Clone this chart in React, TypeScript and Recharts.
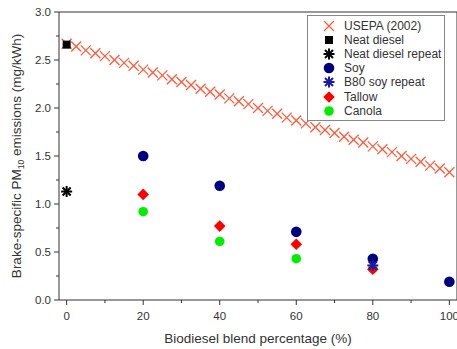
import { ScatterChart, Scatter, XAxis, YAxis } from 'recharts'

// USEPA (2002) reference line markers
const usepaX = [0, 2.5, 5, 7.5, 10, 12.5, 15, 17.5, 20, 22.5, 25, 27.5, 30, 32.5, 35, 37.5, 40, 42.5, 45, 47.5, 50, 52.5, 55, 57.5, 60, 62.5, 65, 67.5, 70, 72.5, 75, 77.5, 80, 82.5, 85, 87.5, 90, 92.5, 95, 97.5, 100]
const usepaY = [2.67, 2.64, 2.6, 2.57, 2.54, 2.5, 2.47, 2.44, 2.4, 2.37, 2.34, 2.3, 2.27, 2.24, 2.2, 2.17, 2.14, 2.1, 2.07, 2.04, 2.0, 1.97, 1.94, 1.9, 1.87, 1.84, 1.8, 1.77, 1.74, 1.7, 1.67, 1.64, 1.6, 1.57, 1.54, 1.5, 1.47, 1.44, 1.4, 1.37, 1.33]

const neatDiesel = [{ x: 0, y: 2.66 }]
const neatDieselRepeat = [{ x: 0, y: 1.13 }]

const soyBlend = [20, 40, 60, 80, 100]
const soyPm = [1.5, 1.19, 0.71, 0.43, 0.19]
const b80SoyRepeat = [{ x: 80, y: 0.36 }]

const tallowBlend = [20, 40, 60, 80]
const tallowPm = [1.1, 0.77, 0.58, 0.32]

const canolaBlend = [20, 40, 60, 80]
const canolaPm = [0.92, 0.61, 0.43, 0.33]

const xTicks = [0, 10, 20, 30, 40, 50, 60, 70, 80, 90, 100]
const yTicks = [0, 0.25, 0.5, 0.75, 1, 1.25, 1.5, 1.75, 2, 2.25, 2.5, 2.75, 3]

const zip = (xs: number[], ys: number[]) => xs.map((x, i) => ({ x, y: ys[i] }))

const usepa = zip(usepaX, usepaY)
const soy = zip(soyBlend, soyPm)
const tallow = zip(tallowBlend, tallowPm)
const canola = zip(canolaBlend, canolaPm)

const FONT = '"Liberation Sans", Arial, sans-serif'
const AXIS = '#333'
const TXT = '#333'
const RED_X = '#ff5a3a'

const XMark = ({ cx, cy }: any) => (
  <g stroke={RED_X} strokeWidth={1.3}>
    <line x1={cx - 5} y1={cy - 5} x2={cx + 5} y2={cy + 5} />
    <line x1={cx - 5} y1={cy + 5} x2={cx + 5} y2={cy - 5} />
  </g>
)
const Square = ({ cx, cy }: any) => <rect x={cx - 4} y={cy - 4} width={8} height={8} fill="#000" />
const Asterisk = ({ cx, cy, color = '#000' }: any) => (
  <g stroke={color} strokeWidth={2}>
    <line x1={cx - 5.5} y1={cy} x2={cx + 5.5} y2={cy} />
    <line x1={cx} y1={cy - 5.5} x2={cx} y2={cy + 5.5} />
    <line x1={cx - 4} y1={cy - 4} x2={cx + 4} y2={cy + 4} />
    <line x1={cx - 4} y1={cy + 4} x2={cx + 4} y2={cy - 4} />
  </g>
)
const BlueAsterisk = (p: any) => <Asterisk {...p} color="#1a1aa8" />
const Dot = ({ cx, cy, color, r }: any) => <circle cx={cx} cy={cy} r={r} fill={color} />
const SoyDot = (p: any) => <Dot {...p} color="#000080" r={5.3} />
const CanolaDot = (p: any) => <Dot {...p} color="#00ee00" r={4.8} />
const Diamond = ({ cx, cy }: any) => (
  <path d={`M${cx},${cy - 5.8}L${cx + 5.8},${cy}L${cx},${cy + 5.8}L${cx - 5.8},${cy}Z`} fill="#ff0000" />
)

const legendItems = [
  { name: 'USEPA (2002)', Icon: XMark },
  { name: 'Neat diesel', Icon: Square },
  { name: 'Neat diesel repeat', Icon: Asterisk },
  { name: 'Soy', Icon: SoyDot },
  { name: 'B80 soy repeat', Icon: BlueAsterisk },
  { name: 'Tallow', Icon: Diamond },
  { name: 'Canola', Icon: CanolaDot },
]

const BottomTick = ({ x, y, payload }: any) => {
  const major = payload.value % 20 === 0
  return (
    <g>
      <line x1={x} y1={y} x2={x} y2={y + (major ? 5 : 3)} stroke={AXIS} />
      {major && (
        <text x={x} y={y + 20} textAnchor="middle" fontSize={11.5} fill={TXT} fontFamily={FONT}>
          {payload.value}
        </text>
      )}
    </g>
  )
}
const LeftTick = ({ x, y, payload }: any) => {
  const major = Math.round(payload.value * 100) % 50 === 0
  return (
    <g>
      <line x1={x} y1={y} x2={x - (major ? 5 : 3)} y2={y} stroke={AXIS} />
      {major && (
        <text x={x - 8} y={y + 4} textAnchor="end" fontSize={11.5} fill={TXT} fontFamily={FONT}>
          {payload.value.toFixed(1)}
        </text>
      )}
    </g>
  )
}

const XLabel = ({ viewBox }: any) => (
  <text x={viewBox.x + viewBox.width / 2} y={343} textAnchor="middle" fontSize={13.5} fill={TXT} fontFamily={FONT}>
    Biodiesel blend percentage (%)
  </text>
)
const YLabel = () => (
  <text transform="translate(21,156) rotate(-90)" textAnchor="middle" fontSize={13.5} fill={TXT} fontFamily={FONT}>
    Brake-specific PM<tspan fontSize={8.5} dy={3}>10</tspan>
    <tspan dy={-3}> emissions (mg/kWh)</tspan>
  </text>
)

export default function App() {
  return (
    <div style={{ position: 'absolute', left: 0, top: 0, width: 457, height: 349, background: '#fff' }}>
      <ScatterChart width={457} height={349} margin={{ top: 0, right: 0, bottom: 0, left: 0 }}>
        <XAxis
          xAxisId="b"
          dataKey="x"
          type="number"
          domain={[-2, 102]}
          ticks={xTicks}
          interval={0}
          height={49}
          tickSize={0}
          tickMargin={0}
          tickLine={false}
          axisLine={{ stroke: AXIS }}
          tick={<BottomTick />}
          label={{ content: XLabel }}
        />
        <XAxis
          xAxisId="t"
          orientation="top"
          dataKey="x"
          type="number"
          domain={[-2, 102]}
          ticks={xTicks}
          interval={0}
          height={12}
          tickSize={4}
          tickLine={{ stroke: AXIS }}
          axisLine={{ stroke: AXIS }}
          tick={false}
        />
        <YAxis
          yAxisId="l"
          dataKey="y"
          type="number"
          domain={[0, 3]}
          ticks={yTicks}
          interval={0}
          width={59}
          tickSize={0}
          tickMargin={0}
          tickLine={false}
          axisLine={{ stroke: AXIS }}
          tick={<LeftTick />}
          label={{ content: YLabel }}
        />
        <YAxis
          yAxisId="r"
          orientation="right"
          mirror
          dataKey="y"
          type="number"
          domain={[0, 3]}
          ticks={yTicks}
          interval={0}
          width={5}
          tickSize={3}
          tickLine={{ stroke: AXIS }}
          axisLine={{ stroke: AXIS }}
          tick={false}
        />
        <Scatter name="USEPA (2002)" data={usepa} xAxisId="b" yAxisId="l" shape={XMark} isAnimationActive={false} />
        <Scatter name="Neat diesel" data={neatDiesel} xAxisId="b" yAxisId="l" shape={Square} isAnimationActive={false} />
        <Scatter name="Neat diesel repeat" data={neatDieselRepeat} xAxisId="b" yAxisId="l" shape={Asterisk} isAnimationActive={false} />
        <Scatter name="Soy" data={soy} xAxisId="b" yAxisId="l" shape={SoyDot} isAnimationActive={false} />
        <Scatter name="Canola" data={canola} xAxisId="b" yAxisId="l" shape={CanolaDot} isAnimationActive={false} />
        <Scatter name="Tallow" data={tallow} xAxisId="b" yAxisId="l" shape={Diamond} isAnimationActive={false} />
        <Scatter name="B80 soy repeat" data={b80SoyRepeat} xAxisId="b" yAxisId="l" shape={BlueAsterisk} isAnimationActive={false} />
      </ScatterChart>
      <div
        style={{
          position: 'absolute',
          left: 307,
          top: 15,
          width: 138,
          height: 106,
          border: '1px solid #888',
          background: '#fff',
          boxSizing: 'border-box',
          paddingTop: 3,
        }}
      >
        {legendItems.map(({ name, Icon }) => (
          <div key={name} style={{ display: 'flex', alignItems: 'center', height: 14.1 }}>
            <svg width={36} height={14} style={{ flex: 'none' }}>
              <Icon cx={21} cy={7} />
            </svg>
            <span style={{ fontFamily: FONT, fontSize: 12, color: TXT, whiteSpace: 'nowrap' }}>{name}</span>
          </div>
        ))}
      </div>
    </div>
  )
}
